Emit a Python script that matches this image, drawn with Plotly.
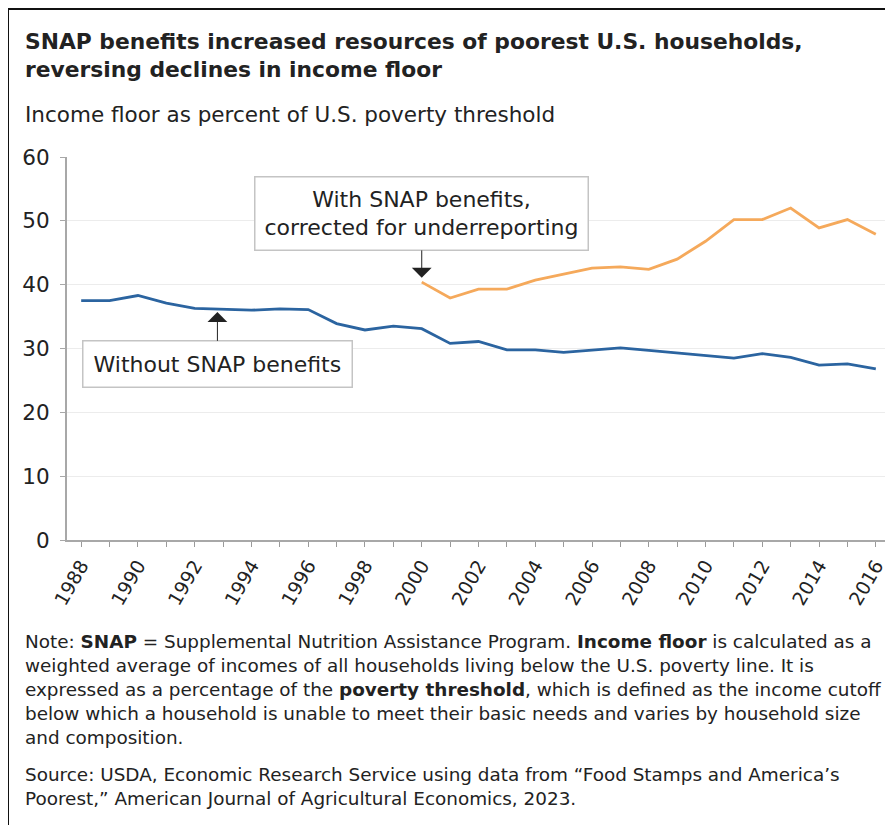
import plotly.graph_objects as go

years = list(range(1988, 2017))
without_snap = [37.5, 37.5, 38.3, 37.1, 36.3, 36.2, 36.0, 36.2, 36.1,
                33.9, 32.9, 33.5, 33.1, 30.8, 31.1, 29.8, 29.8, 29.4,
                29.8, 30.1, 29.7, 29.3, 29.0, 28.5, 29.2, 28.6, 27.4,
                27.6, 26.8]
with_years = list(range(2000, 2017))
with_snap = [40.4, 37.9, 39.3, 39.3, 40.7, 41.7, 42.6, 42.8, 42.4, 44.0,
             46.8, 50.2, 50.2, 52.0, 48.9, 50.2, 47.9]

title_text = ("<b>SNAP benefits increased resources of poorest U.S. households,<br>"
              "reversing declines in income floor</b>")
subtitle_text = "Income floor as percent of U.S. poverty threshold"
note_text = ("Note: <b>SNAP</b> = Supplemental Nutrition Assistance Program. <b>Income floor</b> is calculated as a<br>"
             "weighted average of incomes of all households living below the U.S. poverty line. It is<br>"
             "expressed as a percentage of the <b>poverty threshold</b>, which is defined as the income cutoff<br>"
             "below which a household is unable to meet their basic needs and varies by household size<br>"
             "and composition.")
source_text = ("Source: USDA, Economic Research Service using data from \u201cFood Stamps and America\u2019s<br>"
               "Poorest,\u201d American Journal of Agricultural Economics, 2023.")

# page body has an 8px margin: figure coordinates = screen coordinates - 8
W, H = 885, 817
L, R, T, B = 59, 3, 149, 285
PW, PH = W - L - R, H - T - B


def px_x(px):
    return (px - L) / PW


def px_y(py):
    return (H - B - py) / PH


FONT = "DejaVu Sans, Liberation Sans, Arial, sans-serif"
TXT = "#222222"

fig = go.Figure()
fig.add_trace(go.Scatter(x=years, y=without_snap, mode="lines",
                         line=dict(color="#2b64a0", width=2.8),
                         name="Without SNAP benefits", hoverinfo="x+y"))
fig.add_trace(go.Scatter(x=with_years, y=with_snap, mode="lines",
                         line=dict(color="#f5a95b", width=2.8),
                         name="With SNAP benefits", hoverinfo="x+y"))

annotations = [
    dict(x=2000, y=41.1, xref="x", yref="y", ax=0, ay=-64,
         text="With SNAP benefits,<br>corrected for underreporting",
         showarrow=True, arrowhead=1, arrowsize=3.3, arrowwidth=1,
         arrowcolor="#222222", bgcolor="white", bordercolor="#c4c4c4",
         borderwidth=1.5, borderpad=9, font=dict(size=22, color=TXT, family=FONT)),
    dict(x=1992.8, y=35.7, xref="x", yref="y", ax=0, ay=52,
         text="Without SNAP benefits",
         showarrow=True, arrowhead=1, arrowsize=3.3, arrowwidth=1,
         arrowcolor="#222222", bgcolor="white", bordercolor="#c4c4c4",
         borderwidth=1.5, borderpad=10, font=dict(size=22, color=TXT, family=FONT)),
    dict(x=px_x(15), y=px_y(19), xref="paper", yref="paper", xanchor="left",
         yanchor="top", align="left", showarrow=False, text=title_text,
         font=dict(size=21.8, color=TXT, family=FONT)),
    dict(x=px_x(15), y=px_y(106), xref="paper", yref="paper", xanchor="left",
         yanchor="middle", align="left", showarrow=False, text=subtitle_text,
         font=dict(size=21.5, color=TXT, family=FONT)),
    dict(x=px_x(15), y=px_y(621), xref="paper", yref="paper", xanchor="left",
         yanchor="top", align="left", showarrow=False, text=note_text,
         font=dict(size=18.4, color=TXT, family=FONT)),
    dict(x=px_x(15), y=px_y(754), xref="paper", yref="paper", xanchor="left",
         yanchor="top", align="left", showarrow=False, text=source_text,
         font=dict(size=18.4, color=TXT, family=FONT)),
]

fig.update_layout(
    width=W, height=H, autosize=False,
    margin=dict(l=L, r=R, t=T, b=B),
    paper_bgcolor="white", plot_bgcolor="white",
    showlegend=False,
    font=dict(family=FONT, color=TXT),
    annotations=annotations,
    shapes=[dict(type="rect", xref="paper", yref="paper",
                 x0=px_x(0), x1=px_x(900), y0=px_y(840), y1=px_y(1),
                 line=dict(color="#111111", width=2), fillcolor="rgba(0,0,0,0)")],
    xaxis=dict(range=[1987.5, 2016.5], tickmode="linear", tick0=1988, dtick=2,
               ticks="outside", ticklen=5, tickcolor="#9a9a9a", tickwidth=1,
               showline=True, linecolor="#a8a8a8", linewidth=2,
               showgrid=False, zeroline=False, tickangle=-60,
               tickfont=dict(size=19, color=TXT, family=FONT),
               minor=dict(dtick=1, ticks="outside", ticklen=5,
                          tickcolor="#9a9a9a", showgrid=False)),
    yaxis=dict(range=[0, 60], tickmode="linear", tick0=0, dtick=10,
               ticks="outside", ticklen=5, tickcolor="#a8a8a8",
               showline=True, linecolor="#a8a8a8", linewidth=2,
               showgrid=True, gridcolor="#ececec", gridwidth=1,
               zeroline=False, ticklabelstandoff=6,
               tickfont=dict(size=21.5, color=TXT, family=FONT)),
)

fig.write_html("out.html")
